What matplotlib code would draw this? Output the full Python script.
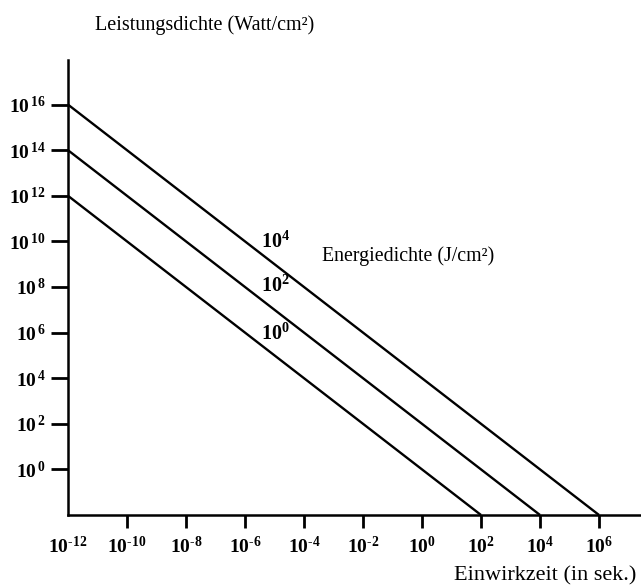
import numpy as np
import matplotlib
matplotlib.use("Agg")
import matplotlib.pyplot as plt

# Energiedichte (J/cm^2) of each line, and its two end points
energy_labels = [r'$\mathbf{10^0}$', r'$\mathbf{10^2}$', r'$\mathbf{10^4}$']
t_start = [1e-12, 1e-12, 1e-12]
p_start = [1e12, 1e14, 1e16]
t_end = [1e2, 1e4, 1e6]
p_end = [1e-2, 1e-2, 1e-2]

# where the small line labels sit (data coords)
label_t = [10**-5.45, 10**-5.45, 10**-5.45]
label_p = [10**5.95, 10**8.05, 10**9.95]

x_ticks = [1e-12, 1e-10, 1e-8, 1e-6, 1e-4, 1e-2, 1e0, 1e2, 1e4, 1e6]
x_exps = ['\u2010' + '12', '\u2010' + '10', '\u2010' + '8', '\u2010' + '6',
          '\u2010' + '4', '\u2010' + '2', '0', '2', '4', '6']
y_ticks = [1e0, 1e2, 1e4, 1e6, 1e8, 1e10, 1e12, 1e14, 1e16]
y_exps = ['0', '2', '4', '6', '8', '10', '12', '14', '16']

plt.rcParams['font.family'] = ['Liberation Serif', 'DejaVu Serif']
plt.rcParams['mathtext.fontset'] = 'custom'
plt.rcParams['mathtext.rm'] = 'Liberation Serif:bold'
plt.rcParams['mathtext.bf'] = 'Liberation Serif:bold'
plt.rcParams['mathtext.it'] = 'Liberation Serif:bold'

W, H = 641, 585
fig = plt.figure(figsize=(W / 100, H / 100), dpi=100)

# axes box in pixels: y axis at x=68, x axis at y=515, top at y=60
x0, x1, ytop, ybot = 68, 641, 60, 515
ax = fig.add_axes([x0 / W, (H - ybot) / H, (x1 - x0) / W, (ybot - ytop) / H])
ax.set_xscale('log')
ax.set_yscale('log')
px_per_dec_x = 29.5
px_per_dec_y = 22.8
ax.set_xlim(1e-12, 10 ** (-12 + (x1 - x0) / px_per_dec_x))
ax.set_ylim(1e-2, 10 ** (-2 + (ybot - ytop) / px_per_dec_y))

for ts, ps, te, pe in zip(t_start, p_start, t_end, p_end):
    ax.plot([ts, te], [ps, pe], color='black', lw=1.7, solid_capstyle='butt')

for lt, lp, lab in zip(label_t, label_p, energy_labels):
    ax.text(lt, lp, lab, fontsize=14.5, ha='left', va='center')

ax.text(10 ** -3.4, 10 ** 9.36, 'Energiedichte (J/cm²)', fontsize=14.3,
        ha='left', va='center')

for s in ['top', 'right']:
    ax.spines[s].set_visible(False)
for s in ['left', 'bottom']:
    ax.spines[s].set_linewidth(1.8)

ax.set_xticks(x_ticks)
ax.set_xticklabels([r'$\mathbf{10^{%s}}$' % e for e in x_exps])
ax.set_yticks(y_ticks)
ax.set_yticklabels([r'$\mathbf{10^{\,%s}}$' % e for e in y_exps])
ax.minorticks_off()
ax.tick_params(axis='x', length=9, width=2, direction='out', pad=6, labelsize=14)
ax.tick_params(axis='y', length=12, width=2, direction='out', pad=4, labelsize=14)
# the first x tick sits in the corner, no mark there
ax.xaxis.get_major_ticks()[0].tick1line.set_visible(False)

fig.text(205 / W, 1 - 25 / H, 'Leistungsdichte (Watt/cm²)', fontsize=14.5,
         ha='center', va='center')
fig.text(545 / W, 1 - 576 / H, 'Einwirkzeit (in sek.)', fontsize=16,
         ha='center', va='center')

fig.savefig('out.png', dpi=100)
